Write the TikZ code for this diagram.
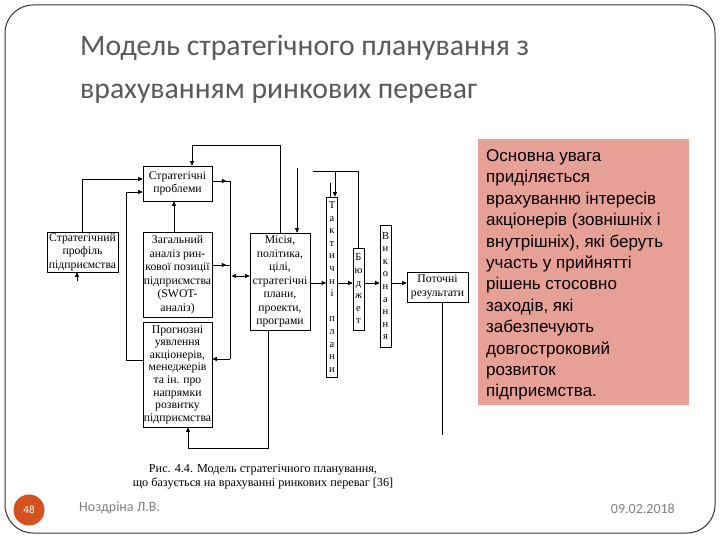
\documentclass[tikz,border=0pt]{standalone}
\usepackage{fontspec}
\setmainfont{Liberation Serif}
\newfontfamily\titlefont{Carlito}
\newfontfamily\arialfont{Liberation Sans}
\usetikzlibrary{arrows.meta}
\definecolor{pinkbox}{HTML}{E6A096}
\definecolor{titlegray}{HTML}{595959}
\definecolor{footorange}{HTML}{D4521F}
\definecolor{footgray}{HTML}{7F7F7F}
\begin{document}
\begin{tikzpicture}[x=1pt,y=-1pt,
  box/.style={draw, line width=0.7pt, inner sep=0pt, align=center, font=\fontsize{11.7}{13.5}\selectfont},
  vbox/.style={draw, line width=0.7pt, inner sep=0pt, align=center, minimum width=11, font=\fontsize{10.5}{12.6}\selectfont},
  arr/.style={-{Triangle[length=4.5pt,width=4pt]}, line width=0.7pt},
  darr/.style={{Triangle[length=4.5pt,width=4pt]}-{Triangle[length=4.5pt,width=4pt]}, line width=0.7pt},
  ln/.style={line width=0.7pt}]
\useasboundingbox (0,0) rectangle (720,540);
\fill[white] (0,0) rectangle (720,540);
% slide frame
\draw[line width=1pt, color=black!80, rounded corners=28] (5,5) rectangle (715,533);
% title
\node[anchor=base west, inner sep=0pt, font=\titlefont\fontsize{29.7}{34}\selectfont, text=titlegray] (t1) at (80,56) {Модель стратегічного планування з};
\node[anchor=base west, inner sep=0pt, font=\titlefont\fontsize{29.7}{34}\selectfont, text=titlegray] (t2) at (80,99) {врахуванням ринкових переваг};
% pink box
\fill[pinkbox] (478,139) rectangle (689,405);
\node[anchor=north west, inner sep=0pt, align=left, font=\arialfont\fontsize{17}{21.4}\selectfont] (note) at (486,149.5)
 {Основна увага\\приділяється\\врахуванню інтересів\\акціонерів (зовнішніх і\\внутрішніх), які беруть\\участь у прийнятті\\рішень стосовно\\заходів, які\\забезпечують\\довгостроковий\\розвиток\\підприємства.};
% diagram boxes
\node[box, minimum width=69, minimum height=35] (sp) at (177.5,183.5) {Стратегічні\\проблеми};
\node[box, minimum width=71, minimum height=40] (prof) at (82.5,252) {Стратегічний\\профіль\\підприємства};
\node[box, minimum width=69, minimum height=85] (an) at (177.5,274.5) {Загальний\\аналіз рин-\\кової позиції\\підприємства\\(SWOT-\\аналіз)};
\node[box, minimum width=69, minimum height=105, font=\fontsize{11.7}{12.6}\selectfont] (pr) at (177.5,374.5) {Прогнозні\\уявлення\\акціонерів,\\менеджерів\\та ін. про\\напрямки\\розвитку\\підприємства};
\node[box, minimum width=60, minimum height=97] (mis) at (280,281.5) {Місія,\\політика,\\цілі,\\стратегічні\\плани,\\проекти,\\програми};
\node[vbox, minimum height=180] (tp) at (332,287) {Т\\а\\к\\т\\и\\ч\\н\\і\\[12.6pt]п\\л\\а\\н\\и};
\node[vbox, minimum height=82] (bud) at (358.5,289) {Б\\ю\\д\\ж\\е\\т};
\node[vbox, minimum height=122] (vyk) at (385.5,286) {В\\и\\к\\о\\н\\а\\н\\н\\я};
\node[box, minimum width=61, minimum height=30] (res) at (437.5,287) {Поточні\\результати};
% connectors
\coordinate (row) at (0,283);
\coordinate (bt) at (230,181);
\coordinate (bb) at (230,359);
\coordinate (spe) at ([yshift=2.5pt]sp.east);
\coordinate (ane) at ([yshift=9.5pt]an.east);
\coordinate (misw) at ([yshift=5.5pt]mis.west);
\draw[arr] (prof.north) |- ([yshift=4.5pt]sp.west);
\draw[arr] ([yshift=14.5pt]pr.west) -- ++(-16,0) |- ([yshift=-8.5pt]sp.west);
\draw[arr] ([xshift=-3.5pt]an.north) -- ([xshift=-3.5pt]sp.south);
\draw[ln] (spe) -- (bt) -- (bb);
\draw[arr] (spe) -- ++(14,0);
\draw[ln] (ane) -- (bt |- ane);
\draw[arr] (ane) -- ++(14,0);
\draw[arr] (bb) -- ([yshift=15.5pt]pr.east);
\draw[darr] ([xshift=1.5pt]bt |- misw) -- (misw);
\draw[arr] ([xshift=-12pt]mis.south) -- ++(0,118) -| ([xshift=10.5pt]pr.south);
\draw[arr] (mis.north) -- ++(0,-87) -| ([xshift=14.5pt]sp.north);
\coordinate (f1) at (297,168);
\draw[arr] (f1) -- (f1 |- mis.north);
\coordinate (f2) at (313,171);
\draw[ln] (f2) -| (bud.north);
\coordinate (tpn) at ([xshift=3pt]tp.north);
\draw[arr] (tpn |- f2) -- (tpn);
\coordinate (f3) at (330,183);
\draw[ln] (f3) -- (f3 |- tp.north);
\draw[arr] (mis.east |- row) -- (tp.west |- row);
\draw[arr] (tp.east |- row) -- (bud.west |- row);
\draw[arr] (bud.east |- row) -- (vyk.west |- row);
\draw[arr] (vyk.east |- row) -- (res.west |- row);
\coordinate (f4) at (442,435);
\coordinate (ress) at ([xshift=4.5pt]res.south);
\draw[ln] (ress) -- (f4);
\coordinate (f5) at (77,281);
\draw[arr] (f5) -- (f5 |- prof.south);
% caption
\node[inner sep=0pt, align=center, font=\fontsize{12.2}{14}\selectfont] (cap) at (263,477)
 {Рис. 4.4. Модель стратегічного планування,\\що базується на врахуванні ринкових переваг [36]};
% footer
\fill[footorange] (29,510) circle (15.5);
\node[text=white, font=\titlefont\fontsize{11}{13}\selectfont, inner sep=0pt] (num) at (29,510) {48};
\node[anchor=base west, inner sep=0pt, text=footgray, font=\titlefont\fontsize{14}{16}\selectfont] (author) at (79,511) {Ноздріна Л.В.};
\node[anchor=base east, inner sep=0pt, text=footgray, font=\titlefont\fontsize{14}{16}\selectfont] (date) at (675,513) {09.02.2018};
\end{tikzpicture}
\end{document}
